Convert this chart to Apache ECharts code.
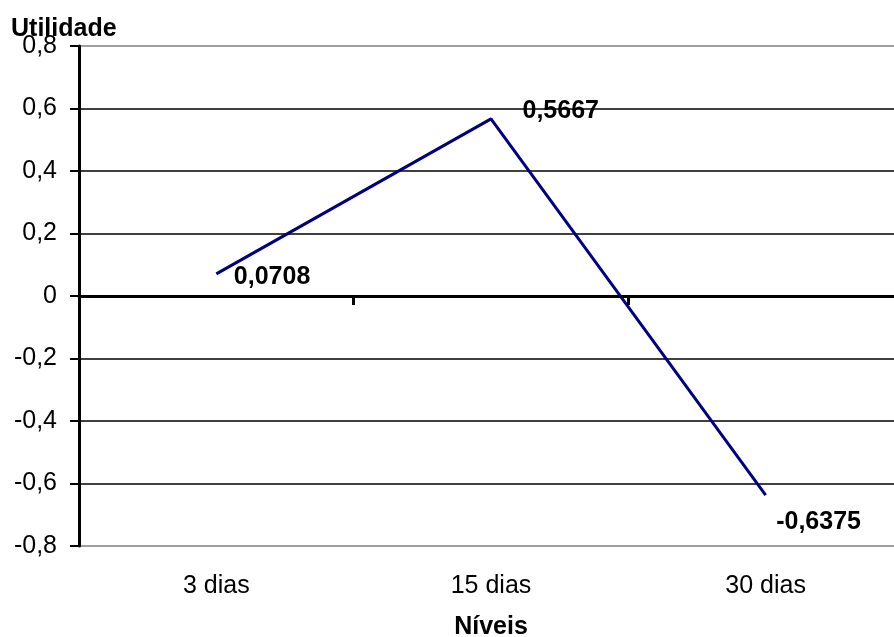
<!DOCTYPE html>
<html>
<head>
<meta charset="utf-8">
<script src="https://cdn.jsdelivr.net/npm/echarts@6/dist/echarts.min.js"></script>
<style>
  html, body { margin: 0; padding: 0; background: #ffffff; }
  #chart { width: 894px; height: 637px; }
</style>
</head>
<body>
<div id="chart"></div>
<script>
// Utilidade por nível
const categories = ['3 dias', '15 dias', '30 dias'];
const utilidade = [0.0708, 0.5667, -0.6375];
const yTicks = [-0.8, -0.6, -0.4, -0.2, 0, 0.2, 0.4, 0.6, 0.8];

const FONT = '"Liberation Sans", Arial, sans-serif';
const fmt = v => (v === 0 ? '0' : String(v).replace('.', ','));

// label placement next to each point
const labelOffsets = [[17, 3], [31, -8], [10, 27]];

const chart = echarts.init(document.getElementById('chart'), null, { renderer: 'canvas' });

chart.setOption({
  animation: false,
  backgroundColor: '#ffffff',
  title: {
    text: 'Utilidade',
    left: 11,
    top: 17,
    padding: 0,
    textStyle: { fontFamily: FONT, fontSize: 25, fontWeight: 'bold', color: '#000' }
  },
  grid: { left: 79, right: -9, top: 46, bottom: 91, containLabel: false, outerBoundsMode: 'none' },
  xAxis: [
    {
      // zero line with ticks between categories
      type: 'category',
      data: categories,
      position: 'bottom',
      boundaryGap: true,
      axisLine: { show: true, onZero: true, lineStyle: { color: '#000', width: 3 } },
      axisTick: { show: true, length: 9, lineStyle: { color: '#000', width: 3 } },
      axisLabel: { show: false },
      splitLine: { show: false },
      z: 5
    },
    {
      // category labels and axis title along the bottom
      type: 'category',
      data: categories,
      position: 'bottom',
      boundaryGap: true,
      axisLine: { show: false, onZero: false },
      axisTick: { show: false },
      axisLabel: { show: true, margin: 28, fontFamily: FONT, fontSize: 25, color: '#000' },
      splitLine: { show: false },
      name: 'Níveis',
      nameLocation: 'middle',
      nameGap: 69,
      nameTextStyle: { fontFamily: FONT, fontSize: 25, fontWeight: 'bold', color: '#000' }
    }
  ],
  yAxis: {
    type: 'value',
    min: yTicks[0],
    max: yTicks[yTicks.length - 1],
    interval: 0.2,
    axisLine: { show: true, lineStyle: { color: '#000', width: 3 } },
    axisTick: { show: true, length: 9, lineStyle: { color: '#000', width: 2 } },
    axisLabel: {
      margin: 22,
      fontFamily: FONT,
      fontSize: 25,
      color: '#000',
      padding: [6, 0, 0, 0],
      formatter: v => fmt(Math.round(v * 10) / 10)
    },
    splitLine: {
      show: true,
      lineStyle: {
        width: 1.5,
        color: yTicks.map((t, i) => (i === 0 || i === yTicks.length - 1 ? '#808080' : '#000'))
      }
    }
  },
  series: [
    {
      type: 'line',
      xAxisIndex: 0,
      data: utilidade.map((v, i) => ({
        value: v,
        label: { offset: labelOffsets[i] }
      })),
      symbol: 'circle',
      symbolSize: 1,
      showSymbol: true,
      itemStyle: { color: 'rgba(0,0,0,0)', borderWidth: 0 },
      lineStyle: { color: '#000080', width: 3 },
      label: {
        show: true,
        position: 'right',
        distance: 0,
        align: 'left',
        verticalAlign: 'middle',
        fontFamily: FONT,
        fontSize: 25,
        fontWeight: 'bold',
        color: '#000',
        formatter: p => String(p.value).replace('.', ',')
      },
      z: 3
    }
  ]
});
</script>
</body>
</html>
